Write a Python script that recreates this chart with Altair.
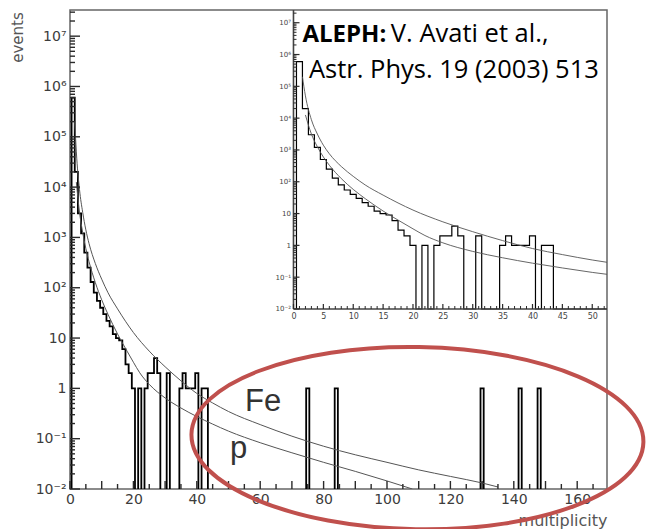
import altair as alt
import numpy as np
import pandas as pd

# ---------------- data ----------------
# histogram: muon multiplicity -> number of events (bins of width 1, centred on N)
mult = [1, 2, 3, 4, 5, 6, 7, 8, 9, 10, 11, 12, 13, 14, 15, 16, 17, 18, 19, 20,
        22, 24, 25, 26, 27, 28, 31, 35, 36, 37, 38, 39, 40, 42, 43,
        75, 84, 130, 142, 148]
events = [6e5, 2e4, 3e3, 1.2e3, 500, 250, 130, 80, 55, 40, 30, 22, 17, 12, 10, 9, 6, 3, 2, 1,
          1, 1, 2, 2, 4, 2, 2, 1, 2, 1, 1, 1, 2, 1, 1,
          1, 1, 1, 1, 1]

# simulation curves (log10 of events)
fe_mult = [1.5, 2, 3, 4, 5, 6, 8, 10, 12, 15, 20, 25, 30, 35, 40, 45, 50, 60, 70, 80,
           90, 100, 110, 120, 130, 135]
fe_log10 = [5.3, 4.7, 3.95, 3.5, 3.15, 2.88, 2.48, 2.17, 1.9, 1.58, 1.11, 0.74, 0.43, 0.15,
            -0.1, -0.29, -0.46, -0.72, -0.95, -1.15, -1.32, -1.47, -1.62, -1.75, -1.88, -1.96]
p_mult = [2, 3, 4, 5, 6, 8, 10, 12, 15, 18, 20, 22, 25, 30, 35, 40, 45, 50, 60, 70, 80,
          90, 100, 108]
p_log10 = [4.1, 3.5, 3.1, 2.78, 2.52, 2.1, 1.76, 1.47, 1.08, 0.74, 0.52, 0.31, 0.08, -0.19,
           -0.39, -0.56, -0.71, -0.85, -1.08, -1.28, -1.47, -1.65, -1.84, -2.0]

# axis labels / ticks
main_x_labels = [0, 20, 40, 60, 80, 100, 120, 140, 160]
main_x_major = [0, 10, 20, 30, 40, 50, 60, 70, 80, 90, 100, 110, 120, 130, 140, 150, 160]
main_x_minor = [5, 15, 25, 35, 45, 55, 65, 75, 85, 95, 105, 115, 125, 135, 145, 155, 165]
decade_exp = [-2, -1, 0, 1, 2, 3, 4, 5, 6, 7]
decade_text = ["10\u207b\u00b2", "10\u207b\u00b9", "1\u2007", "10\u2007", "10\u00b2",
               "10\u00b3", "10\u2074", "10\u2075", "10\u2076", "10\u2077"]
minor_mantissa = [2, 3, 4, 5, 6, 7, 8, 9]
inset_x_major = [0, 5, 10, 15, 20, 25, 30, 35, 40, 45, 50]

# annotations
curve_names = ["Fe", "p"]
curve_label_mult = [55.2, 50.5]
curve_label_log10 = [-0.44, -1.38]
ref_bold = ["ALEPH:"]
ref_bold_mult = [1.5]
ref_bold_log10 = [6.40]
ref_text = ["V. Avati et al.,", "Astr. Phys. 19 (2003) 513"]
ref_text_mult = [16.3, 2.59]
ref_text_log10 = [6.40, 5.26]
ellipse_mult = [109.6]
ellipse_log10 = [-0.99]

# ---------------- layout ----------------
W, H = 537, 479
MAIN_X = [0, 169.4]
MAIN_Y = [1e-2, 10 ** 7.52]
INSET_X = [-37.4, 52.47]
INSET_Y = [10 ** -7.66, 10 ** 7.40]
INSET_AX_X = 223.5   # inset y-axis position inside the plot (px)
INSET_AX_Y = 299     # inset x-axis position inside the plot (px)

xs_main = alt.Scale(domain=MAIN_X, nice=False, zero=False)
ys_main = alt.Scale(type="log", domain=MAIN_Y, nice=False)
xs_in = alt.Scale(domain=INSET_X, nice=False, zero=False)
ys_in = alt.Scale(type="log", domain=INSET_Y, nice=False)

# ---------------- tables ----------------
cnt = dict(zip(mult, events))
Ns = np.arange(1, max(mult) + 1)
hx = [0.5] + list(Ns - 0.5) + [Ns[-1] + 0.5]
hy = [0.0] + [cnt.get(int(n), 0.0) for n in Ns] + [0.0]
hist = pd.DataFrame({"x": hx, "n": hy, "i": np.arange(len(hx))})
hist["y_main"] = np.maximum(hist["n"], 0.004)
hist["y_in"] = np.maximum(hist["n"], 0.01)

fe = pd.DataFrame({"x": fe_mult, "y": np.power(10.0, fe_log10)})
pp = pd.DataFrame({"x": p_mult, "y": np.power(10.0, p_log10)})

decades = [10.0 ** e for e in decade_exp]
minors = [m * 10.0 ** e for e in decade_exp for m in minor_mantissa]
label_expr = "[" + ",".join("'%s'" % s for s in decade_text) + "][round(log(datum.value)/LN10)+2]"

LBL = "#3c3c3c"
TCK = "#2a2a2a"


def yticks(values, scale, x0, length, width=1.4):
    d = pd.DataFrame({"v": values})
    return alt.Chart(d).mark_rule(color=TCK, strokeWidth=width).encode(
        y=alt.Y("v:Q", scale=scale, axis=None),
        x=alt.value(x0), x2=alt.value(x0 + length),
    )


def xticks(values, scale, y0, length, width=1.4):
    d = pd.DataFrame({"v": values})
    return alt.Chart(d).mark_rule(color=TCK, strokeWidth=width).encode(
        x=alt.X("v:Q", scale=scale, axis=None),
        y=alt.value(y0), y2=alt.value(y0 - length),
    )


# ---------------- main plot ----------------
main_hist = alt.Chart(hist).mark_line(interpolate="step-after", color="black",
                                      strokeWidth=1.8, clip=True).encode(
    x=alt.X("x:Q", scale=xs_main, axis=alt.Axis(
        orient="bottom", values=main_x_labels, ticks=False, domain=False, grid=False,
        labelFont="DejaVu Sans", labelFontSize=14, labelColor=LBL, labelPadding=3,
        labelFlush=False, labelOverlap=False,
        title="multiplicity", titleFont="DejaVu Sans", titleFontSize=16, titleFontWeight="normal",
        titleColor="#555555", titleX=W, titleY=31, titleAlign="right",
        titleBaseline="middle")),
    y=alt.Y("y_main:Q", scale=ys_main, axis=alt.Axis(
        orient="left", values=decades, labelExpr=label_expr, ticks=False, domain=False,
        grid=False, labelFont="DejaVu Sans", labelFontSize=14, labelColor=LBL, labelPadding=4,
        labelFlush=False, labelOverlap=False,
        title="events", titleFont="DejaVu Sans", titleFontSize=15, titleFontWeight="normal",
        titleColor="#555555", titleX=-53, titleY=27, titleAngle=270, titleAlign="center",
        titleBaseline="middle")),
    order="i:Q",
)

main_fe = alt.Chart(fe).mark_line(interpolate="monotone", color="#555555", strokeWidth=1,
                                  clip=True).encode(
    x=alt.X("x:Q", scale=xs_main, axis=None),
    y=alt.Y("y:Q", scale=ys_main, axis=None),
)
main_p = alt.Chart(pp).mark_line(interpolate="monotone", color="#555555", strokeWidth=1,
                                 clip=True).encode(
    x=alt.X("x:Q", scale=xs_main, axis=None),
    y=alt.Y("y:Q", scale=ys_main, axis=None),
)

names = pd.DataFrame({"x": curve_label_mult, "y": np.power(10.0, curve_label_log10),
                      "t": curve_names})
main_names = alt.Chart(names).mark_text(font="Liberation Sans", fontSize=31, color="#333333",
                                        align="left", baseline="alphabetic").encode(
    x=alt.X("x:Q", scale=xs_main, axis=None),
    y=alt.Y("y:Q", scale=ys_main, axis=None),
    text="t:N",
)

main_ticks = [
    yticks(decades, ys_main, 0, 10),
    yticks([v for v in minors if v < MAIN_Y[1]], ys_main, 0, 5),
    xticks(main_x_major, xs_main, H, 8),
    xticks(main_x_minor, xs_main, H, 5),
]

# ---------------- inset ----------------
in_hist = alt.Chart(hist).mark_line(interpolate="step-after", color="black",
                                    strokeWidth=1.2, clip=True).encode(
    x=alt.X("x:Q", scale=xs_in, axis=alt.Axis(
        orient="bottom", offset=INSET_AX_Y - H, values=inset_x_major,
        ticks=False, domain=False, grid=False, labelFont="DejaVu Sans", labelFontSize=8,
        labelColor="#444444", labelPadding=3, labelFlush=False, labelOverlap=False,
        title=None)),
    y=alt.Y("y_in:Q", scale=ys_in, axis=alt.Axis(
        orient="left", offset=-INSET_AX_X, values=decades, labelExpr=label_expr,
        ticks=False, domain=False, grid=False, labelFont="DejaVu Sans", labelFontSize=7,
        labelColor="#444444", labelPadding=3, labelFlush=False, labelOverlap=False,
        title=None)),
    order="i:Q",
)

in_fe = alt.Chart(fe).mark_line(interpolate="monotone", color="#555555", strokeWidth=0.9,
                                clip=True).encode(
    x=alt.X("x:Q", scale=xs_in, axis=None),
    y=alt.Y("y:Q", scale=ys_in, axis=None),
)
in_p = alt.Chart(pp).mark_line(interpolate="monotone", color="#555555", strokeWidth=0.9,
                               clip=True).encode(
    x=alt.X("x:Q", scale=xs_in, axis=None),
    y=alt.Y("y:Q", scale=ys_in, axis=None),
)

frame = pd.DataFrame({"x": [0, 0], "x2": [0, INSET_X[1]],
                      "y": [0.01, 0.01], "y2": [INSET_Y[1], 0.01]})
in_frame = alt.Chart(frame).mark_rule(color="#444444", strokeWidth=1.6).encode(
    x=alt.X("x:Q", scale=xs_in, axis=None), x2="x2:Q",
    y=alt.Y("y:Q", scale=ys_in, axis=None), y2="y2:Q",
)

inset_ticks = [
    yticks([v for v in decades if v < INSET_Y[1]], ys_in, INSET_AX_X, 6, 1.2),
    yticks([v for v in minors if v < INSET_Y[1]], ys_in, INSET_AX_X, 3, 1),
    xticks(inset_x_major, xs_in, INSET_AX_Y, 5, 1.2),
    xticks([v for v in range(1, 53) if v % 5], xs_in, INSET_AX_Y, 3, 1),
]

bold = pd.DataFrame({"x": ref_bold_mult, "y": np.power(10.0, ref_bold_log10), "t": ref_bold})
ref_b = alt.Chart(bold).mark_text(font="Open Sans", fontSize=24, fontWeight="bold",
                                  color="black", align="left", baseline="alphabetic").encode(
    x=alt.X("x:Q", scale=xs_in, axis=None),
    y=alt.Y("y:Q", scale=ys_in, axis=None),
    text="t:N",
)
norm = pd.DataFrame({"x": ref_text_mult, "y": np.power(10.0, ref_text_log10), "t": ref_text})
ref_n = alt.Chart(norm).mark_text(font="Open Sans", fontSize=25.5, color="black",
                                  align="left", baseline="alphabetic").encode(
    x=alt.X("x:Q", scale=xs_in, axis=None),
    y=alt.Y("y:Q", scale=ys_in, axis=None),
    text="t:N",
)

# ---------------- highlight ellipse ----------------
ell = pd.DataFrame({"x": ellipse_mult, "y": np.power(10.0, ellipse_log10)})
ellipse = alt.Chart(ell).mark_point(
    shape="M -1 0 A 1 0.403 0 1 1 1 0 A 1 0.403 0 1 1 -1 0 Z",
    size=452 ** 2, filled=False, color="#C0504D", strokeWidth=4, opacity=1, angle=1,
).encode(
    x=alt.X("x:Q", scale=xs_main, axis=None),
    y=alt.Y("y:Q", scale=ys_main, axis=None),
)

chart = alt.layer(
    main_hist, main_fe, main_p, main_names, *main_ticks,
    in_hist, in_fe, in_p, in_frame, *inset_ticks, ref_b, ref_n,
    ellipse,
).resolve_scale(x="independent", y="independent").properties(
    width=W, height=H, autosize="none",
    padding={"left": 70, "top": 10, "right": 646 - 70 - W, "bottom": 529 - 10 - H},
    background="white",
).configure_view(stroke="#666666", strokeWidth=1.5)

chart.save("out.html", embed_options={"renderer": "svg", "actions": False})
